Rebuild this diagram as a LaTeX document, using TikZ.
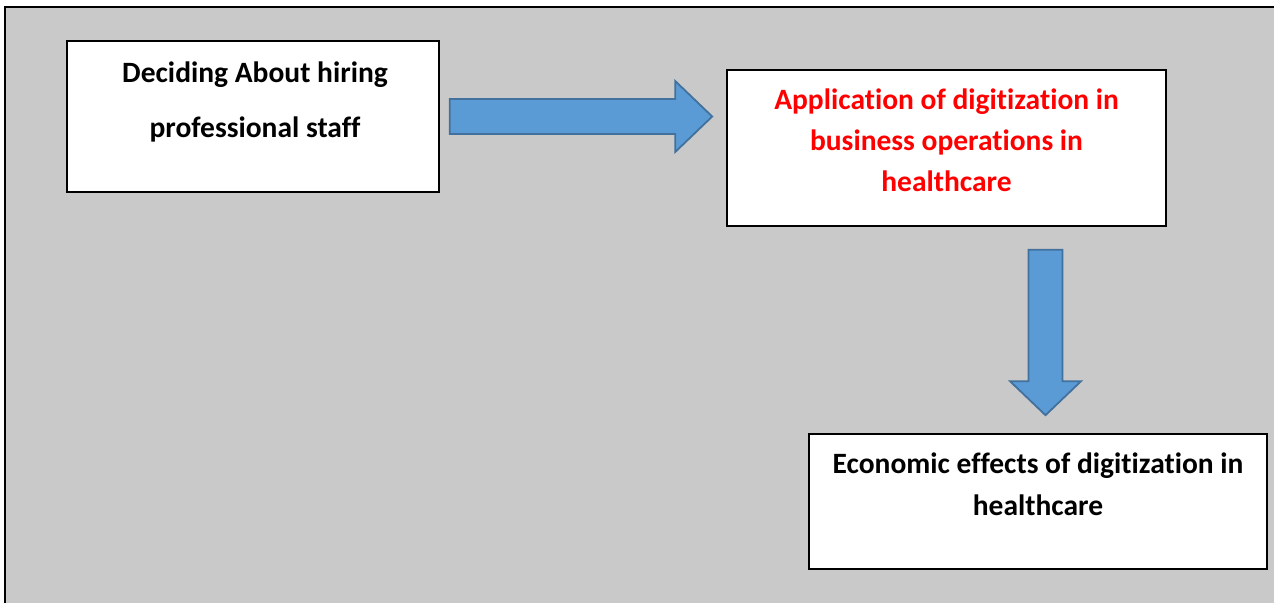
\documentclass[tikz,border=0pt]{standalone}
\usepackage{fontspec}
\setmainfont{Carlito}[RawFeature={-liga}]
\usepackage{tikz}
\usetikzlibrary{calc, positioning}
\definecolor{framegray}{RGB}{201,201,201}
\definecolor{arrowblue}{RGB}{91,155,213}
\definecolor{arrowedge}{RGB}{65,113,156}

\begin{document}
\begin{tikzpicture}[x=1pt, y=1pt]
    \tikzset{box/.style={rectangle, draw=black, line width=1.6pt, fill=white, inner sep=0pt},
             lbl/.style={align=center, inner sep=0pt},
             blockarrow/.style={draw=arrowedge, fill=arrowblue, line width=1.8pt, line join=miter}}
    \useasboundingbox (0,0) rectangle (1274,-603);
    \fill[framegray] (5,-7) rectangle (1274,-603);
    \draw[line width=2.6pt] (5,-603) -- (5,-7) -- (1274,-7);
    \node[box, minimum width=372, minimum height=151] (hire) at (253,-116.5) {};
    \node[box, minimum width=439, minimum height=156] (apply) at (946.5,-148) {};
    \node[box, minimum width=458, minimum height=135] (effect) at (1038,-501.5) {};
    \node[lbl, font=\bfseries\fontsize{29.5}{55}\selectfont] (hiretxt) at (255,-101.5)
        {Deciding About hiring\\professional staff};
    \node[lbl, text=red, font=\bfseries\fontsize{29.5}{41}\selectfont] (applytxt) at (946.5,-140)
        {Application of digitization in\\business operations in\\healthcare};
    \node[lbl, font=\bfseries\fontsize{29.5}{42}\selectfont] (effecttxt) at (1038,-484)
        {Economic effects of digitization in\\healthcare};
    \coordinate (a1s) at ($(hire.east)+(10,0)$);
    \coordinate (a1t) at ($(hire.east -| apply.west)+(-14,0)$);
    \draw[blockarrow] ($(a1s)+(0,17.5)$) -- ($(a1t)+(-37,17.5)$) -- ($(a1t)+(-37,35.5)$)
        -- (a1t) -- ($(a1t)+(-37,-35.5)$) -- ($(a1t)+(-37,-17.5)$) -- ($(a1s)+(0,-17.5)$) -- cycle;
    \coordinate (a2s) at ($(apply.south)+(99,-23)$);
    \coordinate (a2t) at ($(a2s |- effect.north)+(0,18)$);
    \draw[blockarrow] ($(a2s)+(-17,0)$) -- ($(a2t)+(-17,34)$) -- ($(a2t)+(-35.5,34)$)
        -- (a2t) -- ($(a2t)+(35.5,34)$) -- ($(a2t)+(17,34)$) -- ($(a2s)+(17,0)$) -- cycle;
\end{tikzpicture}
\end{document}
